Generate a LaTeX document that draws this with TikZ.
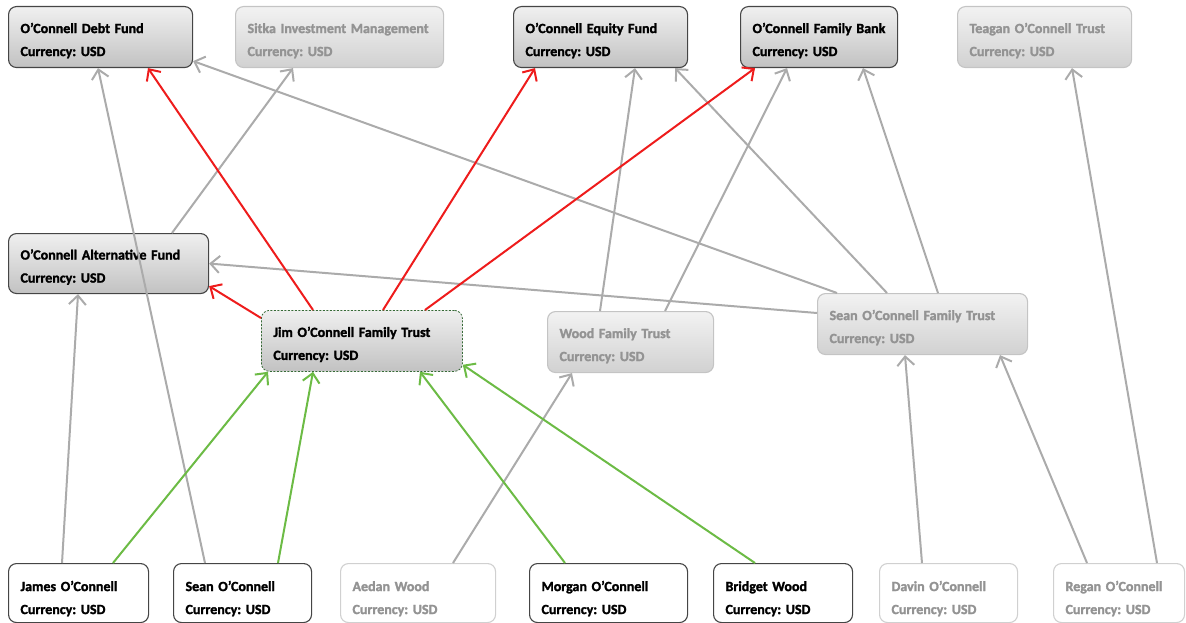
\documentclass[tikz,border=0pt]{standalone}
\usepackage{fontspec}
\setmainfont{Carlito}[BoldFeatures={FakeBold=1.8}]
\frenchspacing
\usetikzlibrary{arrows.meta}
\definecolor{linkgray}{HTML}{ABABAB}
\definecolor{linkred}{HTML}{EE1C1C}
\definecolor{linkgreen}{HTML}{6CBB45}
\definecolor{edgedark}{HTML}{454545}
\definecolor{edgelight}{HTML}{C4C4C4}
\definecolor{textlight}{HTML}{939393}

\begin{document}
\begin{tikzpicture}[x=1pt,y=-1pt,
    ent/.style={rounded corners=8pt,anchor=north west,inner xsep=12pt,inner ysep=0pt,
      align=left,line width=1.1pt,text height=11.5pt,text depth=19.5pt,
      font=\bfseries\fontsize{14}{23}\selectfont},
    fund/.style={ent,draw=edgedark,top color=white!94!black,bottom color=white!76!black,minimum height=61},
    fundoff/.style={ent,draw=edgelight,top color=white!95!black,bottom color=white!82!black,text=textlight,minimum height=61},
    trust/.style={ent,draw=edgedark!80!green,dash pattern=on 2pt off 1.5pt,line width=0.8pt,top color=white!94!black,bottom color=white!76!black,minimum height=61},
    person/.style={ent,draw=edgedark,fill=white,minimum height=59,text depth=15.5pt},
    personoff/.style={ent,draw=edgelight!80!white,fill=white,text=textlight,minimum height=59,text depth=15.5pt},
    link/.style={line width=2pt,-{Straight Barb[length=9pt,width=17pt]}},
    other/.style={link,linkgray},
    own/.style={link,linkred},
    held/.style={link,linkgreen}]
  \useasboundingbox (0,0) rectangle (1186,623);

  % top row
  \node[fund,text width=160] (debt) at (8,6) {O’Connell Debt Fund\\Currency: USD};
  \node[fundoff,text width=184] (sitka) at (235,6) {Sitka Investment Management\\Currency: USD};
  \node[fund,text width=150] (equity) at (513,6) {O’Connell Equity Fund\\Currency: USD};
  \node[fund,text width=133] (bank) at (740,6) {O’Connell Family Bank\\Currency: USD};
  \node[fundoff,text width=150] (teagan) at (957,6) {Teagan O’Connell Trust\\Currency: USD};

  % middle
  \node[fund,text width=176,minimum height=60] (alt) at (8,233) {O’Connell Alternative Fund\\Currency: USD};
  \node[trust,text width=177] (jim) at (261,310) {Jim O’Connell Family Trust\\Currency: USD};
  \node[fundoff,text width=142] (wood) at (547,311) {Wood Family Trust\\Currency: USD};
  \node[fundoff,text width=186] (seantrust) at (817,293) {Sean O’Connell Family Trust\\Currency: USD};

  % bottom row
  \node[person,text width=116] (james) at (8,563) {James O’Connell\\Currency: USD};
  \node[person,text width=114] (seanoc) at (173,563) {Sean O’Connell\\Currency: USD};
  \node[personoff,text width=131] (aedan) at (340,563) {Aedan Wood\\Currency: USD};
  \node[person,text width=134] (morgan) at (529,563) {Morgan O’Connell\\Currency: USD};
  \node[person,text width=115] (bridget) at (713,563) {Bridget Wood\\Currency: USD};
  \node[personoff,text width=114] (davin) at (879,563) {Davin O’Connell\\Currency: USD};
  \node[personoff,text width=107] (regan) at (1053,563) {Regan O’Connell\\Currency: USD};

  \draw[other] ([xshift=54]james.north west) -- ([xshift=70]alt.south west);
  \draw[other] ([xshift=32]seanoc.north west) -- ([xshift=90]debt.south west);
  \draw[other] ([xshift=164]alt.north west) -- ([xshift=58]sitka.south west);
  \draw[other] ([xshift=20]seantrust.north west) -- ([yshift=7]debt.south east);
  \draw[other] ([yshift=-20]seantrust.north west) -- (alt.east);
  \draw[other] ([xshift=70]seantrust.north west) -- ([xshift=162]equity.south west);
  \draw[other] ([xshift=121]seantrust.north west) -- ([xshift=123]bank.south west);
  \draw[other] ([xshift=53]wood.north west) -- ([xshift=122]equity.south west);
  \draw[other] ([xshift=118]wood.north west) -- ([xshift=47]bank.south west);
  \draw[other] ([xshift=113]aedan.north west) -- ([xshift=25]wood.south west);
  \draw[other] ([xshift=43]davin.north west) -- ([xshift=88]seantrust.south west);
  \draw[other] ([xshift=34]regan.north west) -- ([xshift=183]seantrust.south west);
  \draw[other] ([xshift=104]regan.north west) -- ([xshift=115]teagan.south west);

  \draw[own] ([xshift=52]jim.north west) -- ([xshift=140]debt.south west);
  \draw[own] ([xshift=122]jim.north west) -- ([xshift=22]equity.south west);
  \draw[own] ([xshift=164]jim.north west) -- ([xshift=15]bank.south west);
  \draw[own] ([yshift=-8]jim.north west) -- ([yshift=8]alt.south east);

  \draw[held] ([xshift=105]james.north west) -- ([xshift=7]jim.south west);
  \draw[held] ([xshift=105]seanoc.north west) -- ([xshift=52]jim.south west);
  \draw[held] ([xshift=36]morgan.north west) -- ([xshift=159]jim.south west);
  \draw[held] ([xshift=42]bridget.north west) -- ([yshift=7]jim.south east);
\end{tikzpicture}
\end{document}
